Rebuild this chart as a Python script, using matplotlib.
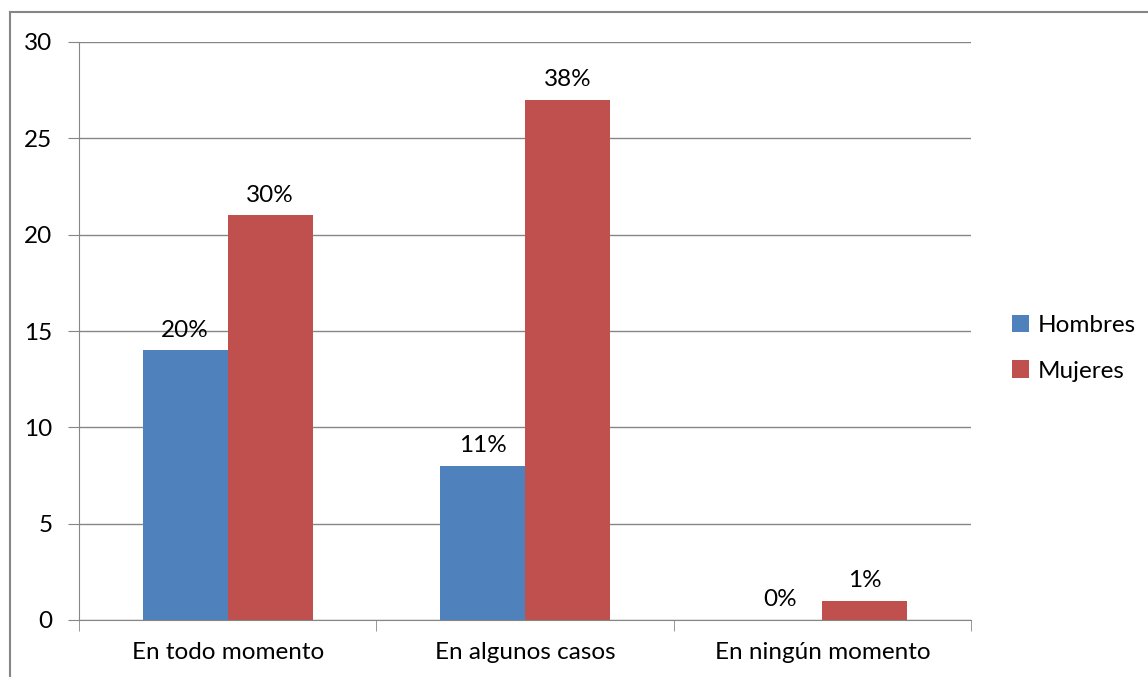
import matplotlib
matplotlib.use("Agg")

import matplotlib.pyplot as plt
from matplotlib.lines import Line2D

# Daten
categories = ["En todo momento", "En algunos casos", "En ningún momento"]
hombres = [14, 8, 0]
mujeres = [21, 27, 1]
hombres_pct = ["20%", "11%", "0%"]
mujeres_pct = ["30%", "38%", "1%"]
y_ticks = [0, 5, 10, 15, 20, 25, 30]

plt.rcParams["font.family"] = ["Lato", "DejaVu Sans"]
plt.rcParams["font.size"] = 17.5

blue = "#4F81BD"
red = "#C0504D"
grey = "#868686"

fig = plt.figure(figsize=(11.48, 6.77), dpi=100)
ax = fig.add_axes([79 / 1148, 1 - 620 / 677, (971 - 79) / 1148, (620 - 42) / 677])

x = list(range(len(categories)))
w = 0.286
b1 = ax.bar([i - w / 2 for i in x], hombres, w, color=blue, label="Hombres", zorder=3)
b2 = ax.bar([i + w / 2 for i in x], mujeres, w, color=red, label="Mujeres", zorder=3)

# Beschriftungen
for rect, txt in zip(b1, hombres_pct):
    ax.annotate(txt, (rect.get_x() + rect.get_width() / 2, rect.get_height()),
                xytext=(0, 7), textcoords="offset points", ha="center", va="bottom")
for rect, txt in zip(b2, mujeres_pct):
    ax.annotate(txt, (rect.get_x() + rect.get_width() / 2, rect.get_height()),
                xytext=(0, 7), textcoords="offset points", ha="center", va="bottom")

ax.set_xlim(-0.5, 2.5)
ax.set_ylim(0, 30)
ax.set_yticks(y_ticks)
ax.set_xticks(x)
ax.set_xticklabels(categories)
ax.set_xticks([-0.5, 0.5, 1.5, 2.5], minor=True)
ax.tick_params(axis="x", which="major", length=0, pad=16)
ax.tick_params(axis="x", which="minor", length=8, color=grey)
ax.tick_params(axis="y", length=8, color=grey, pad=11)

ax.grid(axis="y", color=grey, linewidth=1, zorder=0)
for s in ["top", "right"]:
    ax.spines[s].set_visible(False)
for s in ["left", "bottom"]:
    ax.spines[s].set_color(grey)
    ax.spines[s].set_zorder(4)

ax.legend(loc="center left", bbox_to_anchor=(1.035, 0.47), frameon=False,
          handlelength=0.7, handleheight=0.7, handletextpad=0.35, labelspacing=1.0,
          borderaxespad=0)

# Rahmen
fig.add_artist(Line2D([10 / 1148, 10 / 1148], [0, 1 - 12 / 677], color=grey, lw=1.5))
fig.add_artist(Line2D([10 / 1148, 1], [1 - 12 / 677, 1 - 12 / 677], color=grey, lw=1.5))

plt.savefig("out.png", dpi=100)
plt.close()
